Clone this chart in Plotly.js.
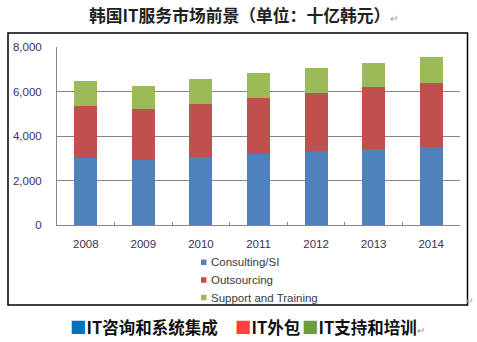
<!DOCTYPE html>
<html><head><meta charset="utf-8">
<script src="https://cdn.plot.ly/plotly-3.0.1.min.js"></script>
<style>html,body{margin:0;padding:0;background:#fff;}#chart{width:477px;height:342px;}</style>
</head><body><div id="chart"></div>
<script>
const years = ['2008','2009','2010','2011','2012','2013','2014'];
const consulting = [3030, 2920, 3040, 3190, 3310, 3400, 3510];
const outsourcing = [2310, 2300, 2420, 2510, 2630, 2790, 2870];
const support = [1110, 1040, 1080, 1110, 1110, 1110, 1160];
const seriesNames = ['Consulting/SI', 'Outsourcing', 'Support and Training'];
const seriesColors = ['#4F81BD', '#C0504D', '#9BBB59'];
const yTicks = [0, 2000, 4000, 6000, 8000];

const L = 57, R = 460, T = 47, B = 225;
const px = x => (x - L) / (R - L);
const py = y => (B - y) / (B - T);

const vals = [consulting, outsourcing, support];
const data = vals.map((v, i) => ({
  type: 'bar', x: years, y: v, name: seriesNames[i],
  marker: {color: seriesColors[i]}, hoverinfo: 'x+y+name'
}));

const cjk = '"Noto Sans CJK SC", "Noto Sans", sans-serif';

// legend drawn as small squares + labels, built from the series arrays
const legendRows = [262.3, 280, 297.5];
const legendShapes = seriesNames.map((n, i) => ({
  type: 'rect', xref: 'paper', yref: 'paper',
  x0: px(201), x1: px(206.5), y0: py(legendRows[i] + 2.75), y1: py(legendRows[i] - 2.75),
  line: {width: 0}, fillcolor: seriesColors[i]
}));
const legendTexts = seriesNames.map((n, i) => ({
  xref: 'paper', yref: 'paper', x: px(208.5), y: py(legendRows[i]), xanchor: 'left', yanchor: 'middle',
  showarrow: false, text: n, font: {size: 11.5, color: '#3a3a3a'}
}));

const layout = {
  width: 477, height: 342,
  margin: {l: L, r: 477 - R, t: T, b: 342 - B, pad: 0},
  paper_bgcolor: '#fff', plot_bgcolor: '#fff',
  barmode: 'stack', bargap: 0.6,
  font: {family: '"Liberation Sans", Arial, sans-serif', size: 11.5, color: '#333'},
  xaxis: {
    type: 'category', tickson: 'boundaries', ticks: 'inside', ticklen: 3,
    tickcolor: '#868686', showline: true, linecolor: '#868686', linewidth: 1,
    showgrid: false, zeroline: false,
    tickfont: {color: '#3a3050', size: 11.5}, ticklabelstandoff: 8
  },
  yaxis: {
    range: [0, 8000], tickvals: yTicks, tickformat: ',', ticks: '',
    showline: true, linecolor: '#868686', linewidth: 1,
    showgrid: true, gridcolor: '#868686', gridwidth: 1, zeroline: false,
    tickfont: {color: '#3a3060', size: 11.5}, ticklabelstandoff: 12
  },
  showlegend: false,
  shapes: [{
    type: 'rect', xref: 'paper', yref: 'paper',
    x0: px(8), x1: px(467.5), y0: py(305), y1: py(33),
    line: {color: '#000', width: 1.5}, fillcolor: 'rgba(0,0,0,0)', layer: 'below'
  }].concat(legendShapes),
  annotations: [
    {xref: 'paper', yref: 'paper', x: px(87), y: py(15), xanchor: 'left', yanchor: 'middle',
     showarrow: false, text: '<b>韩国IT服务市场前景（单位：十亿韩元）</b><span style="font-size:10px;color:#999">↵</span>',
     font: {family: cjk, size: 16.8, color: '#222'}},
    {xref: 'paper', yref: 'paper', x: px(68), y: py(327), xanchor: 'left', yanchor: 'middle',
     showarrow: false, text: '<span style="color:#0070C0">■</span><b>IT咨询和系统集成</b>',
     font: {family: cjk, size: 16.5, color: '#111'}},
    {xref: 'paper', yref: 'paper', x: px(233), y: py(327), xanchor: 'left', yanchor: 'middle',
     showarrow: false, text: '<span style="color:#FF4040">■</span><b>IT外包</b>',
     font: {family: cjk, size: 16.5, color: '#111'}},
    {xref: 'paper', yref: 'paper', x: px(300), y: py(327), xanchor: 'left', yanchor: 'middle',
     showarrow: false, text: '<span style="color:#6E9B3C">■</span><b>IT支持和培训</b><span style="font-size:10px;color:#999">↵</span>',
     font: {family: cjk, size: 16.5, color: '#111'}},
    {xref: 'paper', yref: 'paper', x: px(476), y: py(301), xanchor: 'right', yanchor: 'middle',
     showarrow: false, text: '↵', font: {size: 9, color: '#999'}}
  ].concat(legendTexts)
};
Plotly.newPlot('chart', data, layout, {displayModeBar: false, staticPlot: true});
</script></body></html>
